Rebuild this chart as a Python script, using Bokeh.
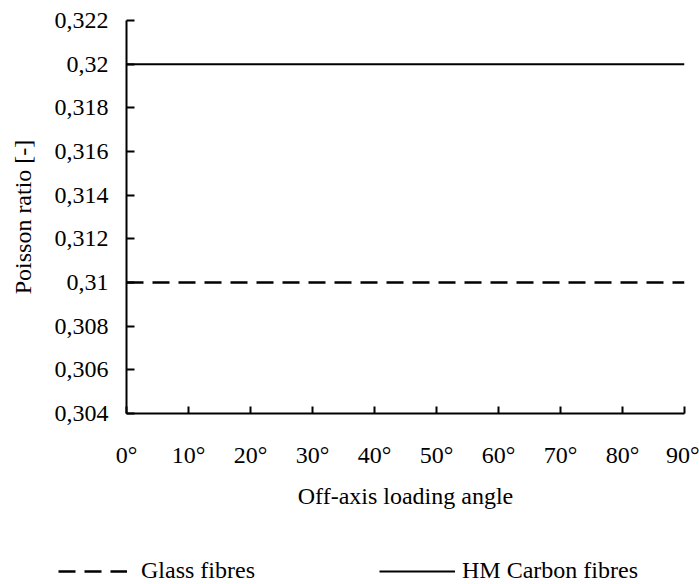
from bokeh.plotting import figure
from bokeh.layouts import column
from bokeh.models import Range1d, FixedTicker, CustomJSTickFormatter, Legend, LegendItem
from bokeh.embed import file_html
from bokeh.resources import INLINE

angles = [0, 10, 20, 30, 40, 50, 60, 70, 80, 90]
glass_fibres = [0.31, 0.31, 0.31, 0.31, 0.31, 0.31, 0.31, 0.31, 0.31, 0.31]
hm_carbon_fibres = [0.32, 0.32, 0.32, 0.32, 0.32, 0.32, 0.32, 0.32, 0.32, 0.32]
y_ticks = [0.304, 0.306, 0.308, 0.31, 0.312, 0.314, 0.316, 0.318, 0.32, 0.322]
x_ticks = [0, 10, 20, 30, 40, 50, 60, 70, 80, 90]

FONT = "Liberation Serif"
FS = "24px"
GLASS_STYLE = dict(line_color="black", line_width=2.6, line_dash="17 9")
HM_STYLE = dict(line_color="black", line_width=2)

p = figure(width=699, height=545, output_backend="svg", toolbar_location=None,
           x_range=Range1d(0, 90), y_range=Range1d(0.304, 0.322),
           min_border_left=126, min_border_right=15, min_border_top=20, min_border_bottom=132)
p.frame_align = False
p.outline_line_color = None
p.xgrid.grid_line_color = None
p.ygrid.grid_line_color = None
p.background_fill_color = "white"
p.border_fill_color = "white"

p.line(angles, glass_fibres, **GLASS_STYLE)
p.line(angles, hm_carbon_fibres, **HM_STYLE)

for ax in (p.xaxis[0], p.yaxis[0]):
    ax.axis_line_color = "black"
    ax.axis_line_width = 2
    ax.major_tick_line_color = "black"
    ax.major_tick_line_width = 2
    ax.major_tick_out = 0
    ax.minor_tick_line_color = None
    ax.major_label_text_font = FONT
    ax.major_label_text_font_size = FS
    ax.major_label_text_color = "black"
    ax.axis_label_text_font = FONT
    ax.axis_label_text_font_size = FS
    ax.axis_label_text_font_style = "normal"
    ax.axis_label_text_color = "black"

xa = p.xaxis[0]
xa.ticker = FixedTicker(ticks=x_ticks)
xa.formatter = CustomJSTickFormatter(code="return tick + '\u00b0';")
xa.major_tick_in = 7
xa.major_label_standoff = 28
xa.axis_label = "Off-axis loading angle"
xa.axis_label_standoff = 12

ya = p.yaxis[0]
ya.ticker = FixedTicker(ticks=y_ticks)
ya.formatter = CustomJSTickFormatter(code="return tick.toFixed(3).replace(/0+$/, '').replace('.', ',');")
ya.major_tick_in = 8
ya.major_label_standoff = 18
ya.axis_label = "Poisson ratio [-]"
ya.axis_label_standoff = 16

# Legend strip below the chart (series drawn out of view, only legend samples show)
lf = figure(width=699, height=39, output_backend="svg", toolbar_location=None,
            x_range=Range1d(0, 90), y_range=Range1d(10, 11),
            x_axis_type=None, y_axis_type=None,
            min_border_left=0, min_border_right=0, min_border_top=0, min_border_bottom=0)
lf.frame_align = False
lf.outline_line_color = None
lf.xgrid.grid_line_color = None
lf.ygrid.grid_line_color = None
lf.background_fill_color = "white"
lf.border_fill_color = "white"
lg_glass = lf.line(angles, glass_fibres, **GLASS_STYLE)
lg_hm = lf.line(angles, hm_carbon_fibres, **HM_STYLE)

def make_legend(item, loc, gw, standoff):
    lg = Legend(items=[item], location=loc, orientation="horizontal",
                glyph_width=gw, glyph_height=20, label_height=20,
                label_standoff=standoff, padding=0, margin=0, spacing=0,
                border_line_color=None, background_fill_alpha=0,
                label_text_font=FONT, label_text_font_size=FS, label_text_color="black")
    lf.add_layout(lg, "center")
    return lg

make_legend(LegendItem(label="Glass fibres", renderers=[lg_glass]), (58, 0), 69, 14)
make_legend(LegendItem(label="HM Carbon fibres", renderers=[lg_hm]), (379, 0), 76, 7)

layout = column(p, lf, spacing=0)
open("out.html", "w").write(file_html(layout, INLINE))
